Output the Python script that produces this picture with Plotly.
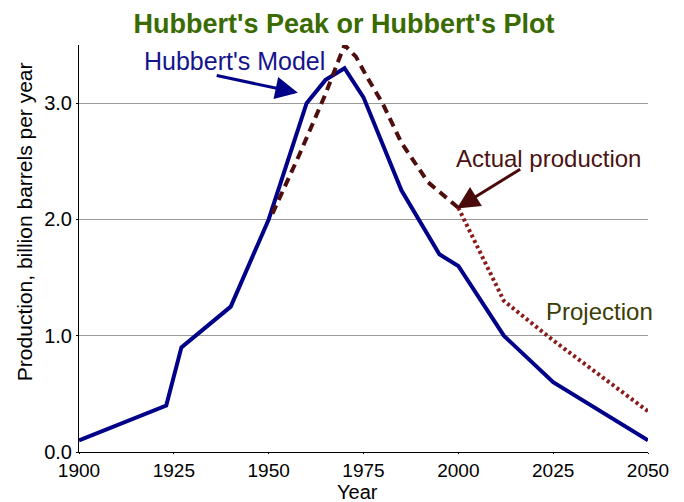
import plotly.graph_objects as go

# Hubbert's model curve
model_years = [1900, 1923, 1927, 1940, 1950, 1960, 1965, 1970, 1975, 1985, 1995, 2000, 2012, 2025, 2050]
model_values = [0.1, 0.4, 0.9, 1.25, 2.0, 3.0, 3.2, 3.3, 3.05, 2.25, 1.7, 1.6, 1.0, 0.6, 0.1]

# Actual production (dashed)
actual_years = [1951, 1958, 1965, 1970, 1973, 1976, 1980, 1985, 1992, 2000]
actual_values = [2.05, 2.55, 3.08, 3.5, 3.4, 3.22, 3.0, 2.66, 2.32, 2.1]

# Projection (dotted)
proj_years = [2000, 2012, 2025, 2050]
proj_values = [2.1, 1.3, 0.96, 0.35]

x_ticks = [1900, 1925, 1950, 1975, 2000, 2025, 2050]
y_ticks = [0, 1, 2, 3]

FONT = "Liberation Sans, Arial, sans-serif"
NAVY = "#000088"
BROWN = "#4f0e0e"
MAROON = "#8b1a1a"

W, H = 676, 494

fig = go.Figure()
fig.add_trace(go.Scatter(x=model_years, y=model_values, mode="lines",
                         line=dict(color=NAVY, width=4), showlegend=False))
fig.add_trace(go.Scatter(x=actual_years, y=actual_values, mode="lines",
                         line=dict(color=BROWN, width=4, dash="9px,6px"), showlegend=False))
fig.add_trace(go.Scatter(x=proj_years, y=proj_values, mode="lines",
                         line=dict(color=MAROON, width=4, dash="3px,3px"), showlegend=False))

fig.update_layout(
    width=W, height=H,
    margin=dict(l=71, r=36, t=37, b=50),
    paper_bgcolor="white", plot_bgcolor="white",
    font=dict(family=FONT, color="black"),
    title=dict(text="<b>Hubbert's Peak or Hubbert's Plot</b>", x=336 / W, xanchor="center",
               y=1 - 16 / H, yanchor="middle",
               font=dict(family=FONT, size=27, color="#3a6b00")),
    xaxis=dict(range=[1900, 2050], tickvals=x_ticks, ticktext=[str(v) for v in x_ticks],
               showgrid=False, zeroline=False, showline=True, linecolor="black", linewidth=1,
               ticks="outside", ticklen=1, tickcolor="black",
               tickfont=dict(size=19, family=FONT, color="black")),
    yaxis=dict(range=[0, 3.5], tickvals=y_ticks, ticktext=["%.1f" % v for v in y_ticks],
               showgrid=True, gridcolor="#9a9a9a", gridwidth=1, zeroline=False,
               showline=True, linecolor="black", linewidth=1,
               ticks="outside", ticklen=2, tickcolor="black",
               tickfont=dict(size=20, family=FONT, color="black")),
)

annotations = [
    dict(text="Production, billion barrels per year", xref="paper", yref="paper",
         x=-0.0965, y=0.565, textangle=-90, showarrow=False,
         xanchor="center", yanchor="middle", font=dict(size=21, family=FONT, color="black")),
    dict(text="Year", xref="paper", yref="paper", x=0.490, y=-0.0975, showarrow=False,
         xanchor="center", yanchor="middle", font=dict(size=20, family=FONT, color="black")),
    dict(text="Hubbert's Model", xref="x", yref="y", x=1940.9, y=3.36, showarrow=False,
         xanchor="center", yanchor="middle", font=dict(size=25, family=FONT, color="#14148c")),
    dict(text="Actual production", xref="x", yref="y", x=2023.9, y=2.52, showarrow=False,
         xanchor="center", yanchor="middle", font=dict(size=24, family=FONT, color="#4a1212")),
    dict(text="Projection", xref="x", yref="y", x=2037.1, y=1.205, showarrow=False,
         xanchor="center", yanchor="middle", font=dict(size=24, family=FONT, color="#3c3c05")),
    dict(text="", xref="x", yref="y", x=1957.7, y=3.09, axref="x", ayref="y",
         ax=1935.9, ay=3.24, showarrow=True, arrowhead=2, arrowsize=1.5, arrowwidth=3,
         arrowcolor=NAVY, standoff=0),
    dict(text="", xref="x", yref="y", x=1999.6, y=2.095, axref="x", ayref="y",
         ax=2016.7, ay=2.44, showarrow=True, arrowhead=2, arrowsize=1.5, arrowwidth=3,
         arrowcolor="#4a0a0a", standoff=0),
]
fig.update_layout(annotations=annotations)

fig.write_html("out.html")
